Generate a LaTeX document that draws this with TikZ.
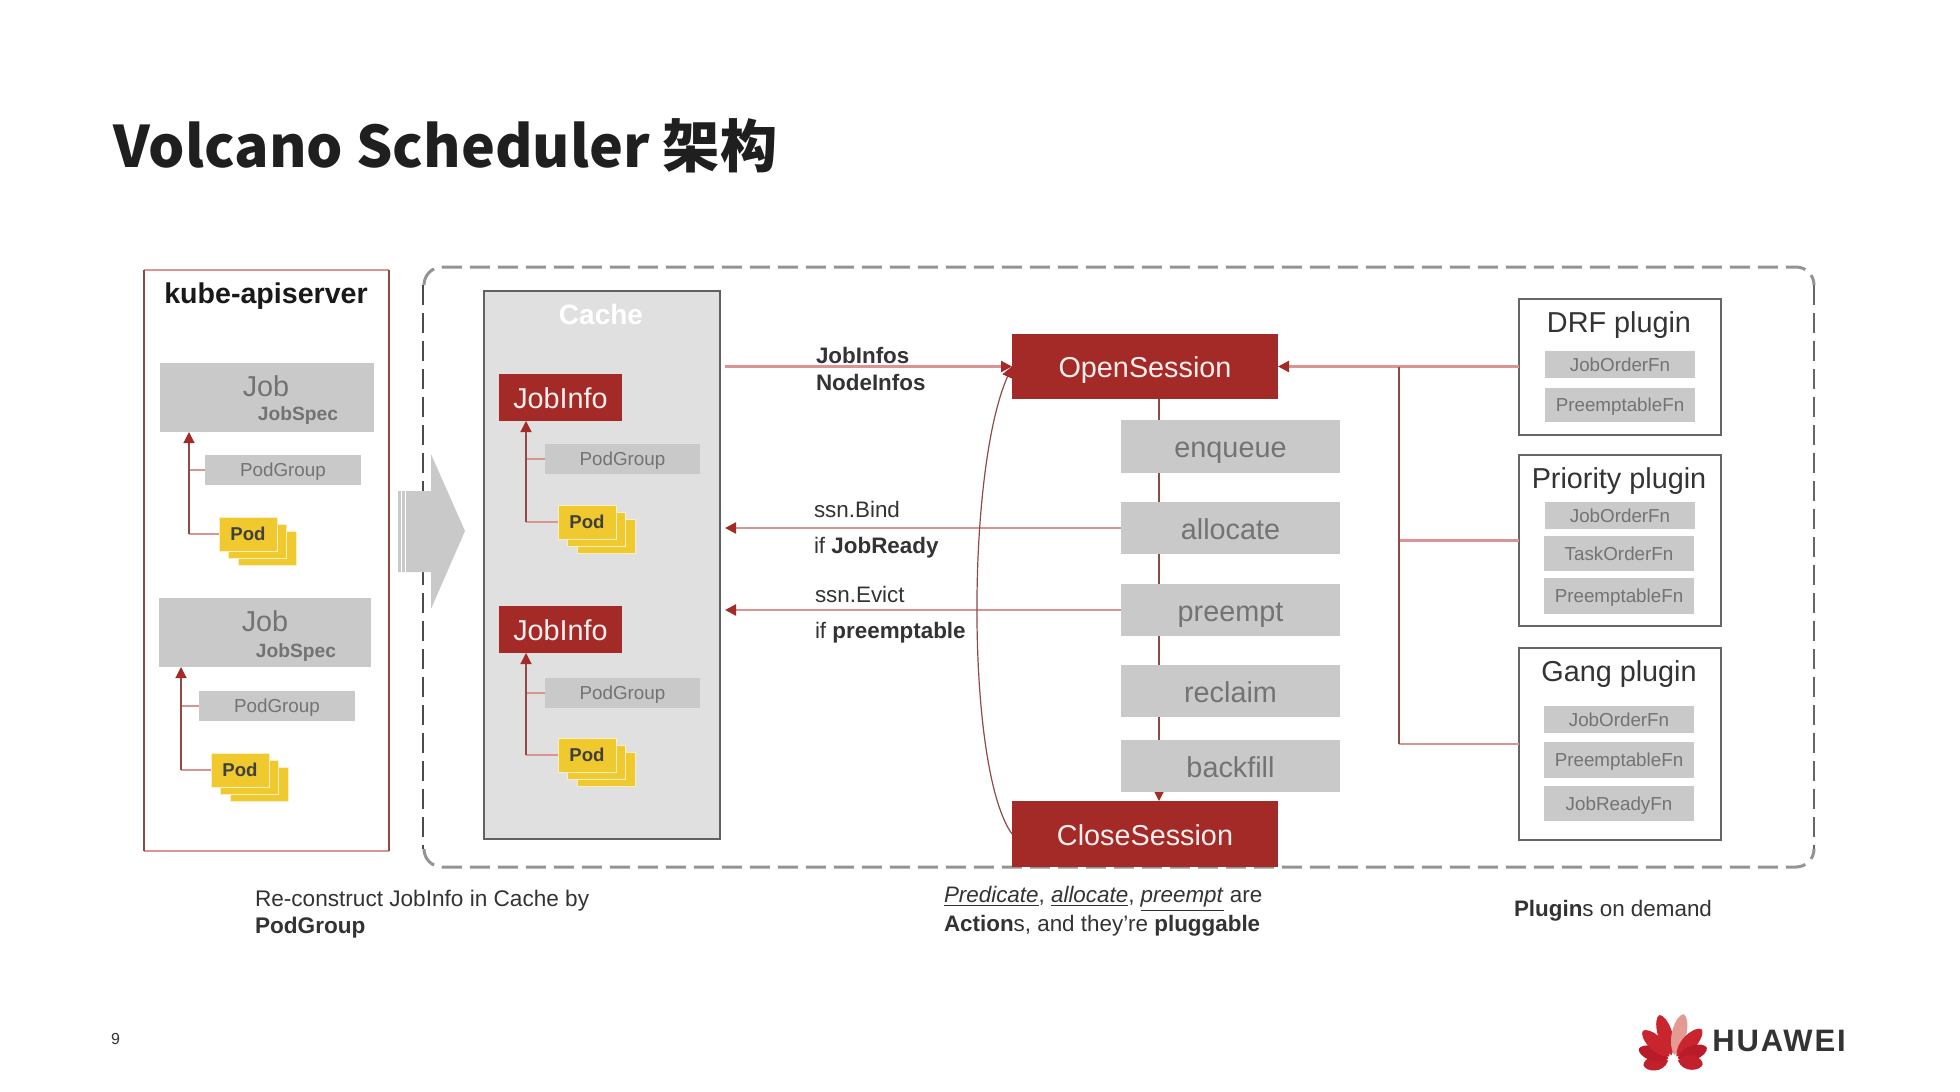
\documentclass[tikz,border=0pt]{standalone}
\usepackage{fontspec}
\setmainfont{Liberation Sans}
\newfontfamily\titlefont{Noto Sans CJK SC}
\usetikzlibrary{arrows.meta,calc,backgrounds}
\definecolor{brick}{HTML}{A32A26}
\definecolor{pinkline}{HTML}{DB9494}
\definecolor{darkline}{HTML}{8F4A48}
\definecolor{boxgray}{HTML}{C9C9C9}
\definecolor{cachegray}{HTML}{E0E0E0}
\definecolor{podyellow}{HTML}{F0C92E}
\definecolor{graytext}{HTML}{737373}
\definecolor{labeltext}{HTML}{333333}
\tikzset{
  frame/.style={inner sep=0pt,outer sep=0pt},
  greybox/.style={frame,fill=boxgray,text=graytext},
  action/.style={greybox,text height=14.2pt,text depth=3.2pt,font=\fontsize{14.4pt}{16pt}\selectfont},
  fn/.style={greybox,text height=8.8pt,text depth=2.1pt,font=\fontsize{9.4pt}{11pt}\selectfont},
  redbox/.style={frame,fill=brick,text=white!92!brick,text height=14.2pt,text depth=3.2pt,font=\fontsize{14.4pt}{16pt}\selectfont},
  plugin/.style={frame,draw=black!60,line width=0.7pt,fill=white},
  podcard/.style={frame,fill=podyellow,draw=white!70!podyellow,line width=0.3pt,text=black!75,font=\bfseries\fontsize{9.3pt}{11pt}\selectfont},
  lbl/.style={inner sep=0pt,outer sep=0pt,anchor=west,text=labeltext,font=\fontsize{11.2pt}{13pt}\selectfont},
  tiplink/.style={-{Triangle[length=5.5pt,width=5.5pt,color=brick]}},
  pinklink/.style={draw=pinkline,line width=1.1pt},
  darklink/.style={draw=darkline,line width=0.6pt},
  dashtb/.style={draw=black!42,line width=1.5pt,dash pattern=on 10pt off 4pt},
  dashlr/.style={draw=black!70,line width=0.9pt,dash pattern=on 10pt off 4pt},
  petal/.style={fill=#1,draw=none},
}
% style, x1, y1, x2, y2, name, text (pixel coordinates)
\newcommand\bx[7]{\node[#1,minimum width={((#4)-(#2))*0.5pt},minimum height={((#5)-(#3))*0.5pt}] (#6) at ({(#2+#4)/2},{(#3+#5)/2}) {#7};}
% pod stack: x, y of the front card, name
\newcommand\podstack[3]{%
  \bx{podcard}{#1+19}{#2+14}{#1+77}{#2+48}{#3c}{}
  \bx{podcard}{#1+9}{#2+7}{#1+67}{#2+41}{#3b}{}
  \bx{podcard}{#1}{#2}{#1+58}{#2+34}{#3}{Pod}
}
\begin{document}
\begin{tikzpicture}[x=0.5pt,y=-0.5pt]
\useasboundingbox (0,0) rectangle (1960,1092);

% title
\node[inner sep=0pt,anchor=base west,text=black!88,font=\titlefont\bfseries\fontsize{28.6pt}{32pt}\selectfont] (title) at (113,167) {Volcano Scheduler 架构};

% dashed frame
\draw[dashtb] (424,285) arc[start angle=180,end angle=270,radius=18] -- (1796,267) arc[start angle=270,end angle=360,radius=18];
\draw[dashtb] (424,849) arc[start angle=180,end angle=90,radius=18] -- (1796,867) arc[start angle=90,end angle=0,radius=18];
\draw[dashlr] (423,285) -- (423,849);
\draw[dashlr,draw=black!60,line width=1.1pt] (1814,285) -- (1814,849);

% kube-apiserver
\bx{frame}{144}{270}{389}{851}{kube}{}
\draw[pinklink] (kube.north west) -- (kube.north east);
\draw[pinklink] (kube.south west) -- (kube.south east);
\draw[darklink] (kube.north west) -- (kube.south west);
\draw[darklink] (kube.north east) -- (kube.south east);
\node[inner sep=0pt,text=black!90,font=\bfseries\fontsize{14.3pt}{16pt}\selectfont] (kubetitle) at (266,296) {kube-apiserver};

\bx{greybox}{160}{363}{374}{432}{job1}{}
\node[inner sep=0pt,text=graytext,font=\fontsize{14.4pt}{16pt}\selectfont] (job1t) at (266,386) {Job};
\node[inner sep=0pt,text=graytext,font=\bfseries\fontsize{9.6pt}{11pt}\selectfont] (job1s) at (298,416) {JobSpec};
\bx{fn}{205}{455}{361}{485}{pg1}{PodGroup}
\podstack{219}{517}{pod1}

\bx{greybox}{159}{598}{371}{667}{job2}{}
\node[inner sep=0pt,text=graytext,font=\fontsize{14.4pt}{16pt}\selectfont] (job2t) at (265,621) {Job};
\node[inner sep=0pt,text=graytext,font=\bfseries\fontsize{9.6pt}{11pt}\selectfont] (job2s) at (296,653) {JobSpec};
\bx{fn}{199}{691}{355}{721}{pg2}{PodGroup}
\podstack{211}{753}{pod2}

\coordinate (k1x) at (189,0);
\coordinate (k2x) at (181,0);
\draw[pinklink] (pod1.west) -- (pod1.west -| k1x);
\draw[pinklink] (pg1.west) -- (pg1.west -| k1x);
\draw[darklink,tiplink] (pod1.west -| k1x) -- (job1.south -| k1x);
\draw[pinklink] (pod2.west) -- (pod2.west -| k2x);
\draw[pinklink] (pg2.west) -- (pg2.west -| k2x);
\draw[darklink,tiplink] (pod2.west -| k2x) -- (job2.south -| k2x);

% cache
\bx{frame,fill=cachegray,draw=black!62,line width=0.7pt}{484}{291}{720}{839}{cache}{}
\node[inner sep=0pt,text=white,font=\bfseries\fontsize{14pt}{16pt}\selectfont] (cachet) at (601,314) {Cache};
\bx{redbox}{499}{374}{622}{421}{ji1}{JobInfo}
\bx{fn}{545}{444}{700}{474}{cpg1}{PodGroup}
\podstack{558}{505}{cpod1}
\bx{redbox}{499}{606}{622}{653}{ji2}{JobInfo}
\bx{fn}{545}{678}{700}{708}{cpg2}{PodGroup}
\podstack{558}{738}{cpod2}

\coordinate (c1x) at (526,0);
\draw[pinklink] (cpod1.west) -- (cpod1.west -| c1x);
\draw[pinklink] (cpg1.west) -- (cpg1.west -| c1x);
\draw[darklink,tiplink] (cpod1.west -| c1x) -- (ji1.south -| c1x);
\draw[pinklink] (cpod2.west) -- (cpod2.west -| c1x);
\draw[pinklink] (cpg2.west) -- (cpg2.west -| c1x);
\draw[darklink,tiplink] (cpod2.west -| c1x) -- (ji2.south -| c1x);

% big arrow
\fill[boxgray] (398,491) -- (431,491) -- (431,454) -- (465,531) -- (431,609) -- (431,572) -- (398,572) -- cycle;
\draw[white,line width=0.5pt] (401,489) -- (401,574) (405,489) -- (405,574);

% sessions and actions
\bx{redbox}{1012}{334}{1278}{399}{open}{OpenSession}
\bx{redbox}{1012}{801}{1278}{867}{close}{CloseSession}
\bx{action}{1121}{420}{1340}{473}{enq}{enqueue}
\bx{action}{1121}{502}{1340}{554}{alloc}{allocate}
\bx{action}{1121}{584}{1340}{636}{preempt}{preempt}
\bx{action}{1121}{665}{1340}{717}{reclaim}{reclaim}
\bx{action}{1121}{740}{1340}{792}{backfill}{backfill}

% plugins
\bx{plugin}{1519}{299}{1721}{435}{drf}{}
\node[inner sep=0pt,text=black!80,font=\fontsize{14.4pt}{16pt}\selectfont] (drft) at (1619,325) {DRF plugin};
\bx{fn}{1545}{351}{1695}{378}{drf1}{JobOrderFn}
\bx{fn}{1545}{388}{1695}{422}{drf2}{PreemptableFn}
\bx{plugin}{1519}{455}{1721}{626}{prio}{}
\node[inner sep=0pt,text=black!80,font=\fontsize{14.4pt}{16pt}\selectfont] (priot) at (1619,481) {Priority plugin};
\bx{fn}{1545}{502}{1695}{529}{prio1}{JobOrderFn}
\bx{fn}{1544}{536}{1694}{571}{prio2}{TaskOrderFn}
\bx{fn}{1544}{578}{1694}{614}{prio3}{PreemptableFn}
\bx{plugin}{1519}{648}{1721}{840}{gang}{}
\node[inner sep=0pt,text=black!80,font=\fontsize{14.4pt}{16pt}\selectfont] (gangt) at (1619,674) {Gang plugin};
\bx{fn}{1544}{706}{1694}{733}{gang1}{JobOrderFn}
\bx{fn}{1544}{742}{1694}{778}{gang2}{PreemptableFn}
\bx{fn}{1544}{786}{1694}{821}{gang3}{JobReadyFn}

% connectors
\coordinate (busx) at (1159,0);
\coordinate (treex) at (1399,0);
\coordinate (cachein) at ($(cache.east |- open.west)+(5,0)$);
\coordinate (bindend) at ($(cache.east |- alloc.west)+(5,0)$);
\coordinate (evictend) at ($(cache.east |- preempt.west)+(5,0)$);
\begin{scope}[on background layer]
\draw[darklink,tiplink] (open.south -| busx) -- (close.north -| busx);
\end{scope}
\draw[pinklink,tiplink] (cachein) -- (open.west);
\draw[pinklink,tiplink] (alloc.west) -- (bindend);
\draw[pinklink,tiplink] (preempt.west) -- (evictend);
\draw[pinklink,tiplink] (drf.west |- open.east) -- (open.east);
\draw[pinklink] (prio.west) -- (prio.west -| treex);
\draw[pinklink] (gang.west) -- (gang.west -| treex);
\draw[darklink] (open.east -| treex) -- (gang.west -| treex);
\draw[darklink,tiplink] (close.west) .. controls (966,770) and (966,470) .. (open.west);

% labels
\node[lbl,font=\bfseries\fontsize{11.2pt}{13pt}\selectfont] (l1) at (816,355) {JobInfos};
\node[lbl,font=\bfseries\fontsize{11.2pt}{13pt}\selectfont] (l2) at (816,382) {NodeInfos};
\node[lbl] (l3) at (814,509) {ssn.Bind};
\node[lbl] (l4) at (814,548) {if \textbf{JobReady}};
\node[lbl] (l5) at (815,594) {ssn.Evict};
\node[lbl] (l6) at (815,633) {if \textbf{preemptable}};

% captions
\node[lbl,font=\fontsize{11.3pt}{13pt}\selectfont] (c1) at (255,901) {Re-construct JobInfo in Cache by};
\node[lbl,font=\fontsize{11.3pt}{13pt}\selectfont] (c2) at (255,928) {\textbf{PodGroup}};
\node[lbl] (c3) at (944,899) {\underline{\textit{Predicate}}, \underline{\textit{allocate}}, \underline{\textit{preempt}} are};
\node[lbl] (c4) at (944,926) {\textbf{Action}s, and they’re \textbf{pluggable}};
\node[lbl] (c5) at (1514,911) {\textbf{Plugin}s on demand};
\node[lbl,font=\fontsize{8pt}{10pt}\selectfont] (pageno) at (111,1039) {9};

% logo
\begin{scope}[shift={(1673,1060)}]
\foreach \a/\r/\c in {100/30/C2202B,72/36/B81C28,46/42/C8252E,17/47/C8252E,-13/47/E39A92,-43/42/C8252E,-70/36/B81C28,-98/30/C2202B}{
  \definecolor{petalc}{HTML}{\c}
  \fill[petal=petalc,rotate=\a] (0,-5) .. controls (-12,{-0.4*\r}) and (-7,{-0.97*\r}) .. (0,-\r) .. controls (7,{-0.97*\r}) and (12,{-0.4*\r}) .. (0,-5);
}
\end{scope}
\node[inner sep=0pt,anchor=west,text=black!80,font=\bfseries\addfontfeature{LetterSpace=6}\fontsize{15.5pt}{17pt}\selectfont] (huawei) at (1712,1041) {HUAWEI};
\end{tikzpicture}
\end{document}
